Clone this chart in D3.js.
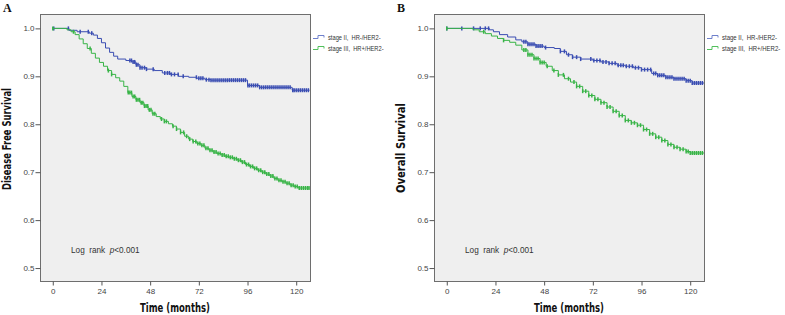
<!DOCTYPE html>
<html>
<head>
<meta charset="utf-8">
<script src="https://cdn.jsdelivr.net/npm/d3@7"></script>
<style>
      body { margin: 0; background: #fff; }
      svg { display: block; }
</style>
</head>
<body>
<svg id="chart" width="785" height="315"></svg>
<script>
const monthTicks = [0, 24, 48, 72, 96, 120];
const survivalTicks = [0.5, 0.6, 0.7, 0.8, 0.9, 1.0];
const groupNames = ["stage II,  HR-/HER2-", "stage III,  HR+/HER2-"];

// [months, survival]
const dfsStageII = [[0, 1.0], [8, 0.996], [12, 0.993], [18, 0.990], [20, 0.986], [22, 0.979], [24, 0.970], [26, 0.959],
      [28, 0.950], [30, 0.942], [32, 0.936], [36, 0.933], [39, 0.930], [41, 0.924], [43, 0.918], [46, 0.915], [50, 0.912],
      [54, 0.907], [58, 0.904], [62, 0.900], [67, 0.898], [71, 0.896], [75, 0.893], [78, 0.892], [96, 0.881], [102, 0.877],
      [118, 0.871], [126.6, 0.871]];
const dfsStageIII = [[0, 1.0], [7, 0.997], [9, 0.993], [11, 0.987], [13, 0.978], [15, 0.968], [17, 0.958], [19, 0.948],
      [21, 0.938], [23, 0.929], [25, 0.921], [27, 0.912], [29, 0.904], [31, 0.897], [33, 0.890], [35, 0.879], [37, 0.866],
      [39, 0.858], [41, 0.851], [43, 0.845], [45, 0.838], [47, 0.830], [49, 0.822], [51, 0.816], [53, 0.811], [55, 0.806],
      [57, 0.801], [59, 0.796], [61, 0.790], [63, 0.783], [65, 0.775], [67, 0.769], [69, 0.764], [71, 0.760], [73, 0.756],
      [75, 0.750], [77, 0.746], [79, 0.742], [81, 0.739], [83, 0.736], [85, 0.733], [87, 0.731], [89, 0.728], [91, 0.725],
      [93, 0.721], [95, 0.716], [97, 0.712], [99, 0.708], [101, 0.704], [103, 0.700], [105, 0.696], [107, 0.692],
      [109, 0.687], [111, 0.683], [113, 0.680], [115, 0.677], [117, 0.673], [119, 0.670], [121, 0.667], [126.6, 0.667]];
const osStageII = [[0, 1.0], [21, 0.997], [23, 0.993], [26, 0.987], [30, 0.982], [34, 0.976], [37, 0.972], [40, 0.967],
      [44, 0.963], [48, 0.960], [53, 0.958], [56, 0.952], [59, 0.945], [62, 0.940], [66, 0.936], [72, 0.933], [76, 0.930],
      [80, 0.927], [84, 0.923], [88, 0.921], [92, 0.918], [96, 0.914], [101, 0.906], [104, 0.902], [108, 0.898],
      [112, 0.895], [118, 0.891], [121, 0.886], [126.8, 0.886]];
const osStageIII = [[0, 1.0], [13, 0.997], [16, 0.993], [19, 0.989], [22, 0.984], [25, 0.979], [28, 0.975], [31, 0.971],
      [34, 0.965], [37, 0.955], [40, 0.945], [43, 0.937], [46, 0.929], [49, 0.921], [52, 0.912], [55, 0.903], [58, 0.895],
      [61, 0.888], [64, 0.879], [67, 0.869], [70, 0.860], [73, 0.852], [76, 0.845], [79, 0.836], [82, 0.827], [85, 0.818],
      [88, 0.808], [91, 0.803], [94, 0.798], [97, 0.789], [100, 0.780], [103, 0.773], [106, 0.766], [109, 0.758],
      [112, 0.752], [115, 0.748], [118, 0.743], [120, 0.740], [126.8, 0.740]];

// censored times (months)
const dfsCensorII = [0.5, 7.7, 13.5, 17.5, 19.2, 38, 38.8, 39.6, 40.4, 41.2, 42, 43, 44, 45.2, 46.2, 49.5, 55.2, 56.5, 57.5,
      58.5, 60, 61.8, 64.3, 70.8, 72, 73, 74, 75.7, 77, 78, 79, 80, 81, 82, 83, 84, 85, 86, 87, 88, 89, 90, 91, 92, 93, 94,
      95, 96.2, 97, 98, 99, 100, 101, 102, 103, 104, 105, 106, 107, 108, 109, 110, 111, 112, 113, 114, 115, 116, 117,
      118.3, 119, 120, 121, 122, 123, 124, 125, 126];
const dfsCensorIII = [0, 10.2, 18.4, 27.4, 29, 37.2, 38, 38.8, 39.6, 40.4, 41.2, 42, 42.8, 43.6, 44.4, 45.2, 46, 46.8, 47.6,
      48.4, 49.4, 50.3, 53.6, 55, 56, 59.3, 61, 63, 64.5, 66, 67.5, 69.2, 70.5, 71.5, 72.5, 73.5, 74.5, 75.5, 76.5, 77.5,
      78.5, 79.5, 80.5, 81.5, 82.5, 83.5, 84.5, 85.5, 86.5, 87.5, 88.5, 89.5, 90.5, 91.5, 92.5, 93.5, 94.5, 95.5, 96.5,
      97.5, 98.5, 99.5, 100.5, 101.5, 102.5, 103.5, 104.5, 105.5, 106.5, 107.5, 108.5, 109.5, 110.5, 111.5, 112.5, 113.5,
      114.5, 115.5, 116.5, 117.5, 118.5, 119.5, 120.5, 121.5, 122.5, 123.5, 124.5, 125.5, 126.3];
const osCensorII = [0, 7.4, 13.2, 16.5, 19, 20.6, 38, 39, 40, 41, 42, 43, 44, 45, 46, 47, 48.7, 56, 58, 60, 62, 64, 66, 71,
      72.5, 74, 75.5, 77, 78.5, 80, 81.5, 83, 84.5, 85.8, 87, 88.5, 90, 91.5, 93, 94.5, 96, 97.5, 99, 100.5, 102, 103, 104,
      105, 106, 107, 108, 109, 110, 111, 112, 113, 114, 115, 116, 117, 118, 119, 120, 121, 122, 123, 124, 125, 126];
const osCensorIII = [0, 18.2, 28, 38, 39, 40, 41, 42, 43, 44, 45, 46, 47, 48, 49.5, 52.8, 55, 57.5, 60, 62.7, 64, 65.5, 67,
      68.5, 70, 71.5, 73, 74.5, 76, 77.5, 79, 80.5, 82, 83.5, 85, 86.5, 88, 89.5, 91, 92.5, 94, 95.5, 97, 98.5, 100, 101.5,
      103, 104.5, 106, 107.5, 109, 110.5, 112, 113.5, 115, 116.5, 118, 119, 120, 121, 122, 123, 124, 125, 126];

const colors = ["#3a4db2", "#38b447"];
const legendColors = ["#6f80cc", "#52c05c"];
const tickFont = "'Liberation Sans', Arial, sans-serif";
const titleFont = "'Liberation Sans Narrow', 'Arial Narrow', 'DejaVu Sans Condensed', sans-serif";

const svg = d3.select("#chart");

drawPanel({
      left: 40, label: "A", yTitle: "Disease Free Survival", yTitleLen: 102, yTitleX: 11, yTitleY: 139,
      series: [dfsStageII, dfsStageIII], censors: [dfsCensorII, dfsCensorIII], legendX: 313, legendScale: 0.82
});
drawPanel({
      left: 434, label: "B", yTitle: "Overall Survival", yTitleLen: 90, yTitleX: 405, yTitleY: 148,
      series: [osStageII, osStageIII], censors: [osCensorII, osCensorIII], legendX: 707, legendScale: 0.86
});

function drawPanel(p) {
      const top = 14, bottom = 281, width = 270;

      const x = d3.scaleLinear()
            .domain([-6.3, 126.8])
            .range([p.left, p.left + width]);

      const y = d3.scaleLinear()
            .domain([0.473, 1.03])
            .range([bottom, top]);

      const g = svg.append("g");

      g.append("rect")
            .attr("x", p.left + 0.5)
            .attr("y", top + 0.5)
            .attr("width", width)
            .attr("height", bottom - top)
            .attr("fill", "#efefef")
            .attr("stroke", "#6e6e6e")
            .attr("stroke-width", 1);

      const yAxis = g.append("g")
            .attr("transform", `translate(${p.left + 0.5},0)`)
            .call(d3.axisLeft(y).tickValues(survivalTicks).tickFormat(d3.format(".1f")).tickSize(5).tickPadding(1));

      const xAxis = g.append("g")
            .attr("transform", `translate(0,${bottom + 0.5})`)
            .call(d3.axisBottom(x).tickValues(monthTicks).tickSize(4).tickPadding(3));

      [yAxis, xAxis].forEach(a => {
            a.select(".domain").remove();
            a.selectAll("line").attr("stroke", "#555");
            a.selectAll("text")
                  .attr("fill", "#444")
                  .style("font-family", tickFont)
                  .style("font-size", "8px");
      });

      const line = d3.line()
            .x(d => x(d[0]))
            .y(d => y(d[1]))
            .curve(d3.curveStepAfter);

      p.series.forEach((s, i) => {
            g.append("path")
                  .datum(s)
                  .attr("fill", "none")
                  .attr("stroke", colors[i])
                  .attr("stroke-width", 1)
                  .attr("d", line);

            const bis = d3.bisector(d => d[0]).right;
            g.append("g")
                  .selectAll("line")
                  .data(p.censors[i])
                  .join("line")
                  .attr("x1", t => x(t))
                  .attr("x2", t => x(t))
                  .attr("y1", t => y(s[Math.max(0, bis(s, t) - 1)][1]) - 2)
                  .attr("y2", t => y(s[Math.max(0, bis(s, t) - 1)][1]) + 2)
                  .attr("stroke", colors[i])
                  .attr("stroke-width", 1.5);
      });

      // legend
      groupNames.forEach((name, i) => {
            const ly = 37 + i * 11;
            const lx = p.legendX;
            g.append("path")
                  .attr("d", `M${lx},${ly + 1.5}H${lx + 5}V${ly - 1.5}H${lx + 11}V${ly + 0.5}`)
                  .attr("fill", "none")
                  .attr("stroke", legendColors[i])
                  .attr("stroke-width", 1);
            g.append("text")
                  .attr("transform", `translate(${lx + 15},${ly + 2.5}) scale(${p.legendScale},1)`)
                  .attr("fill", "#333")
                  .style("font-family", tickFont)
                  .style("font-size", "7px")
                  .style("white-space", "pre")
                  .text(name);
      });

      const lr = g.append("text")
            .attr("x", x(9))
            .attr("y", 253)
            .attr("fill", "#333")
            .style("font-family", tickFont)
            .style("font-size", "8.2px")
            .style("white-space", "pre");
      lr.append("tspan").text("Log  rank  ");
      lr.append("tspan").style("font-style", "italic").text("p");
      lr.append("tspan").text("<0.001");

      g.append("text")
            .attr("x", p.left + width / 2)
            .attr("y", 312)
            .attr("text-anchor", "middle")
            .attr("textLength", 70)
            .attr("lengthAdjust", "spacingAndGlyphs")
            .attr("fill", "#111")
            .style("font-family", titleFont)
            .style("font-weight", "bold")
            .style("font-size", "12px")
            .text("Time (months)");

      g.append("text")
            .attr("transform", `translate(${p.yTitleX},${p.yTitleY}) rotate(-90)`)
            .attr("text-anchor", "middle")
            .attr("textLength", p.yTitleLen)
            .attr("lengthAdjust", "spacingAndGlyphs")
            .attr("fill", "#111")
            .style("font-family", titleFont)
            .style("font-weight", "bold")
            .style("font-size", "12px")
            .text(p.yTitle);

      g.append("text")
            .attr("x", p.left - 37)
            .attr("y", 11.5)
            .attr("fill", "#111")
            .style("font-family", "'Liberation Serif', 'Times New Roman', serif")
            .style("font-weight", "bold")
            .style("font-size", "12px")
            .text(p.label);
}
</script>
</body>
</html>
